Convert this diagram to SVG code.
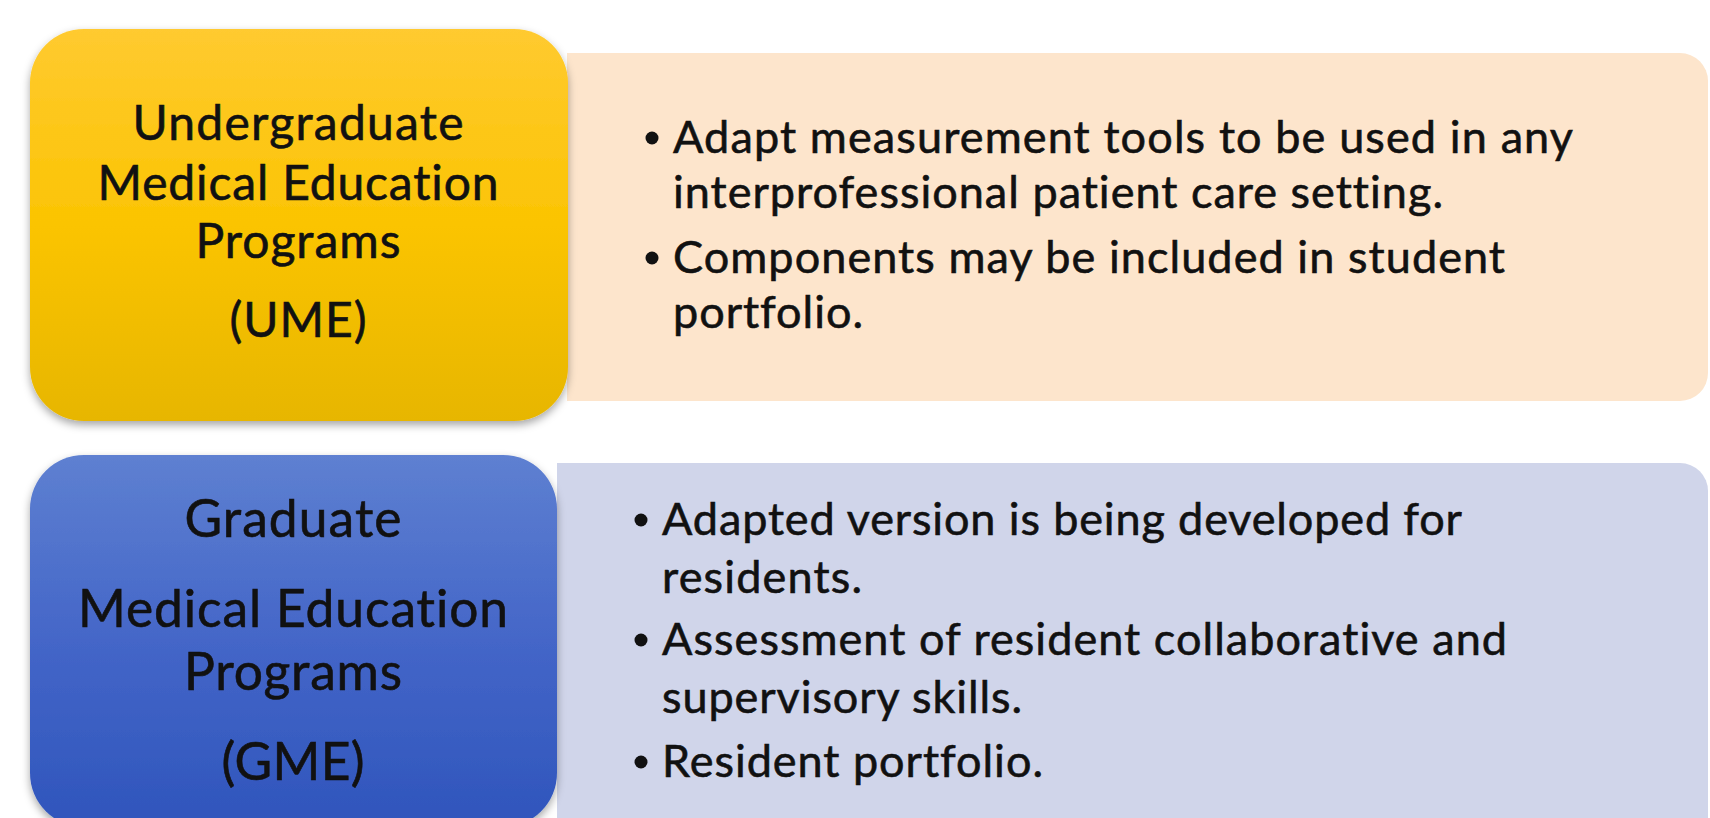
<svg xmlns="http://www.w3.org/2000/svg" width="1710" height="818" viewBox="0 0 1710 818">
  <defs>
    <linearGradient id="gold" x1="0" y1="0" x2="0" y2="1">
      <stop offset="0" stop-color="#FFCA30"/>
      <stop offset="0.5" stop-color="#FBC402"/>
      <stop offset="1" stop-color="#E7B600"/>
    </linearGradient>
    <linearGradient id="blue" x1="0" y1="0" x2="0" y2="1">
      <stop offset="0" stop-color="#5E80D1"/>
      <stop offset="0.5" stop-color="#4466C8"/>
      <stop offset="1" stop-color="#2F55BC"/>
    </linearGradient>
    <filter id="shadow" x="-10%" y="-10%" width="120%" height="125%">
      <feDropShadow dx="0" dy="4" stdDeviation="4" flood-color="#000" flood-opacity="0.35"/>
    </filter>
  </defs>
  <style>
    text { font-family: Lato, "Open Sans", sans-serif; fill: #111; stroke: #111; stroke-width: 0.6; font-variant-ligatures: none; }
    .title { text-anchor: middle; }
    .dot { fill: #111; }
  </style>

  <rect width="1710" height="818" fill="#ffffff"/>

  <!-- description panels -->
  <g id="ume-details">
    <path d="M567 53 H1680 A28 28 0 0 1 1708 81 V373 A28 28 0 0 1 1680 401 H567 Z" fill="#FDE5CC"/>
    <g font-size="45">
      <circle class="dot" cx="652" cy="138" r="6.5"/>
      <text x="673" y="153" textLength="900" lengthAdjust="spacing">Adapt measurement tools to be used in any</text>
      <text x="673" y="208" textLength="770" lengthAdjust="spacing">interprofessional patient care setting.</text>
      <circle class="dot" cx="652" cy="258" r="6.5"/>
      <text x="673" y="273" textLength="832" lengthAdjust="spacing">Components may be included in student</text>
      <text x="673" y="328" textLength="190" lengthAdjust="spacing">portfolio.</text>
    </g>
  </g>

  <g id="gme-details">
    <path d="M557 463 H1680 A28 28 0 0 1 1708 491 V830 H557 Z" fill="#D0D5EA"/>
    <g font-size="45">
      <circle class="dot" cx="641" cy="520" r="6.5"/>
      <text x="662" y="535" textLength="800" lengthAdjust="spacing">Adapted version is being developed for</text>
      <text x="662" y="593" textLength="200" lengthAdjust="spacing">residents.</text>
      <circle class="dot" cx="641" cy="640" r="6.5"/>
      <text x="662" y="655" textLength="845" lengthAdjust="spacing">Assessment of resident collaborative and</text>
      <text x="662" y="713" textLength="360" lengthAdjust="spacing">supervisory skills.</text>
      <circle class="dot" cx="641" cy="762" r="6.5"/>
      <text x="662" y="777" textLength="381" lengthAdjust="spacing">Resident portfolio.</text>
    </g>
  </g>

  <!-- program headers -->
  <g id="ume">
    <rect x="30" y="29" width="538" height="392" rx="54" fill="url(#gold)" filter="url(#shadow)"/>
    <g class="title" font-size="48">
      <text x="298" y="140" textLength="331" lengthAdjust="spacing">Undergraduate</text>
      <text x="298" y="200" textLength="401" lengthAdjust="spacing">Medical Education</text>
      <text x="298" y="258" textLength="205" lengthAdjust="spacing">Programs</text>
      <text x="298" y="337" textLength="137" lengthAdjust="spacing">(UME)</text>
    </g>
  </g>

  <g id="gme">
    <rect x="30" y="455" width="527" height="372" rx="54" fill="url(#blue)" filter="url(#shadow)"/>
    <g class="title" font-size="51.5">
      <text x="293" y="537" textLength="217" lengthAdjust="spacing">Graduate</text>
      <text x="293" y="627" textLength="430" lengthAdjust="spacing">Medical Education</text>
      <text x="293" y="690" textLength="218" lengthAdjust="spacing">Programs</text>
      <text x="293" y="780" textLength="143" lengthAdjust="spacing">(GME)</text>
    </g>
  </g>
</svg>
